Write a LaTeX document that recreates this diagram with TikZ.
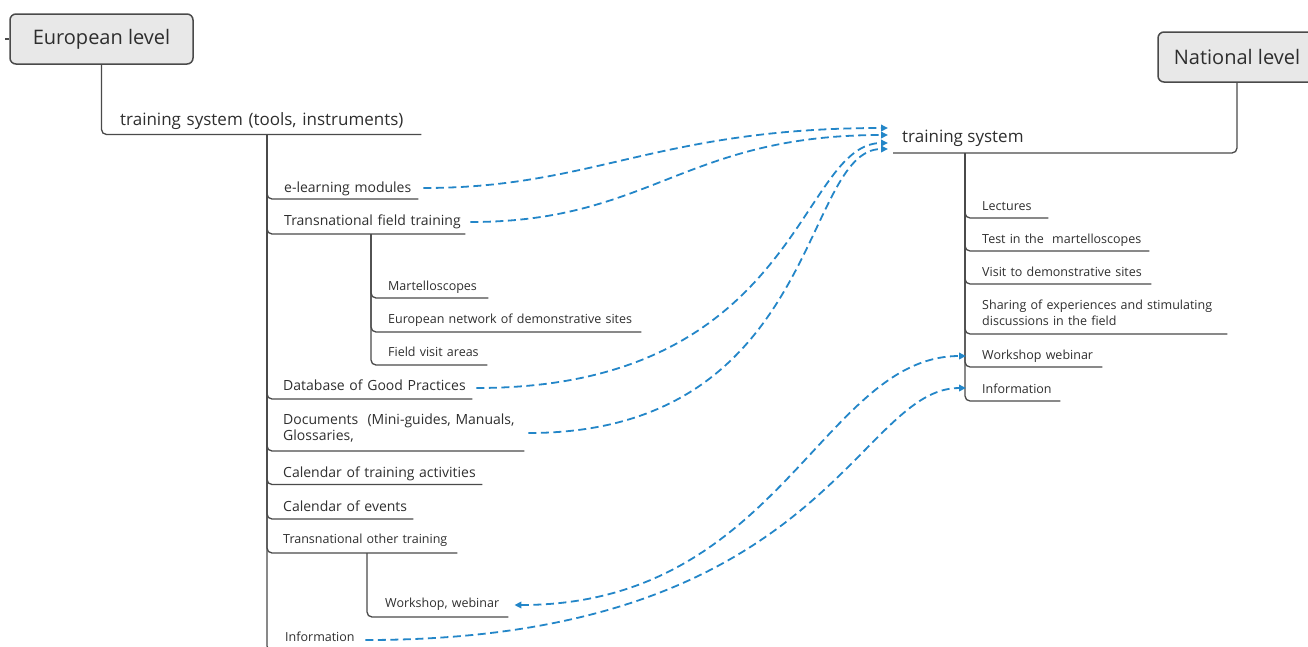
\documentclass[tikz,border=0pt]{standalone}
\usepackage{fontspec}
\setmainfont{Open Sans}
\usetikzlibrary{arrows.meta}
\definecolor{txt}{HTML}{2E2E2E}
\definecolor{ln}{HTML}{4A4A4A}
\definecolor{boxfill}{HTML}{E8E8E8}
\definecolor{relc}{HTML}{2386C8}
\begin{document}
\begin{tikzpicture}[x=1pt,y=-1pt,
  lvl/.style={draw=ln, line width=1.5pt, fill=boxfill, rounded corners=6pt,
    font=\fontsize{20}{24}\selectfont, text=txt, minimum height=50pt, inner sep=0pt},
  head/.style={anchor=base west, inner sep=0pt, align=left, font=\fontsize{17}{20}\selectfont, text=txt},
  itm/.style={anchor=base west, inner sep=0pt, align=left, font=\fontsize{14}{16}\selectfont, text=txt},
  sub/.style={itm, font=\fontsize{12.5}{16.5}\selectfont},
  br/.style={draw=ln, line width=1.3pt, rounded corners=5pt},
  rel/.style={draw=relc, line width=1.8pt, dash pattern=on 8pt off 4.5pt,
    -{Triangle[length=7pt,width=6.5pt]}},
  relb/.style={rel, {Triangle[length=7pt,width=6.5pt]}-{Triangle[length=7pt,width=6.5pt]}},
]
\useasboundingbox (0,0) rectangle (1308,646);

% ---------- European level ----------
\node[lvl, minimum width=183pt] (eu) at (101.5,39) {European level};
\draw[br] (eu.west) -- ++(-4,0);
\node[head, text width=301pt] (tsl) at (120,125.5) {training system (tools, instruments)};
\draw[br] (eu.south) |- ([yshift=-9pt]tsl.base east);
\coordinate (L0) at (267,135);

\node[itm, text width=134pt] (elm) at (284,192) {e-learning modules};
\node[itm, text width=181pt] (tft) at (284,225) {Transnational field training};
\coordinate (L1) at (371,234);
\node[sub, text width=100pt] (mar) at (388,290) {Martelloscopes};
\node[sub, text width=253pt] (ens) at (388,323) {European network of demonstrative sites};
\node[sub, text width=99pt] (fva) at (388,356) {Field visit areas};
\node[itm, text width=189pt] (dbp) at (283,390) {Database of Good Practices};
\node[itm, text width=241pt] (doc) at (283,424) {Documents\ \ (Mini-guides, Manuals,\\Glossaries,};
\node[itm, text width=199pt] (cta) at (283,477) {Calendar of training activities};
\node[itm, text width=130pt] (cev) at (283,511) {Calendar of events};
\node[sub, text width=174pt] (tot) at (283,543) {Transnational other training};
\coordinate (L2) at (367,553);
\node[sub, text width=123pt] (wsw) at (385,607) {Workshop, webinar};
\node[sub, text width=75pt] (inf) at (285,641) {Information};

\draw[br] (L0) |- ([yshift=-7pt]elm.base east);
\draw[br] (L0) |- ([yshift=-9pt]tft.base east);
\draw[br] (L1) |- ([yshift=-8pt]mar.base east);
\draw[br] (L1) |- ([yshift=-9pt]ens.base east);
\draw[br] (L1) |- ([yshift=-9pt]fva.base east);
\draw[br] (L0) |- ([yshift=-9pt]dbp.base east);
\draw[br] (L0) |- ([yshift=-27pt]doc.base east);
\draw[br] (L0) |- ([yshift=-7.5pt]cta.base east);
\draw[br] (L0) |- ([yshift=-8pt]cev.base east);
\draw[br] (L0) |- ([yshift=-10pt]tot.base east);
\draw[br] (L2) |- ([yshift=-10pt]wsw.base east);
\draw[br] (L0) |- ([yshift=-10pt]inf.base east);

% ---------- National level ----------
\node[lvl, minimum width=158pt] (nl) at (1237,57) {National level};
\node[head] (ts) at (902,142) {training system};
\draw[br] (nl.south) |- ([xshift=-9pt,yshift=-11pt]ts.base west);
\coordinate (R0) at (965,153);

\node[sub, text width=66pt] (lec) at (982,210) {Lectures};
\node[sub, text width=167pt] (tim) at (982,243) {Test in the\ \ martelloscopes};
\node[sub, text width=169pt] (vds) at (982,276) {Visit to demonstrative sites};
\node[sub, text width=245pt] (soe) at (982,309) {Sharing of experiences and stimulating\\discussions in the field};
\node[sub, text width=120pt] (wwb) at (982,359) {Workshop webinar};
\node[sub, text width=78pt] (rinf) at (982,393) {Information};

\draw[br] (R0) |- ([yshift=-8pt]lec.base east);
\draw[br] (R0) |- ([yshift=-8pt]tim.base east);
\draw[br] (R0) |- ([yshift=-8pt]vds.base east);
\draw[br] (R0) |- ([yshift=-25pt]soe.base east);
\draw[br] (R0) |- ([yshift=-8pt]wwb.base east);
\draw[br] (R0) |- ([yshift=-8pt]rinf.base east);

% ---------- relationships ----------
\draw[rel] ([xshift=5pt,yshift=4pt]elm.base east) .. controls +(170,0) and +(-230,0) .. ([xshift=-14pt,yshift=14pt]ts.base west);
\draw[rel] ([xshift=5pt,yshift=3pt]tft.base east) .. controls +(180,0) and +(-204,0) .. ([xshift=-14pt,yshift=7pt]ts.base west);
\draw[rel] ([xshift=4pt,yshift=2pt]dbp.base east) .. controls +(324,0) and +(-90,0) .. ([xshift=-14pt,yshift=-1pt]ts.base west);
\draw[rel] ([xshift=4pt,yshift=-9pt]doc.base east) .. controls +(292,0) and +(-87,0) .. ([xshift=-14pt,yshift=-7pt]ts.base west);
\draw[relb] ([xshift=6pt,yshift=2pt]wsw.base east) .. controls +(265,0) and +(-144,0) .. ([xshift=-16pt,yshift=3pt]wwb.base west);
\draw[rel] ([xshift=5pt,yshift=1pt]inf.base east) .. controls +(460,0) and +(-110,0) .. ([xshift=-16pt,yshift=5pt]rinf.base west);
\end{tikzpicture}
\end{document}
